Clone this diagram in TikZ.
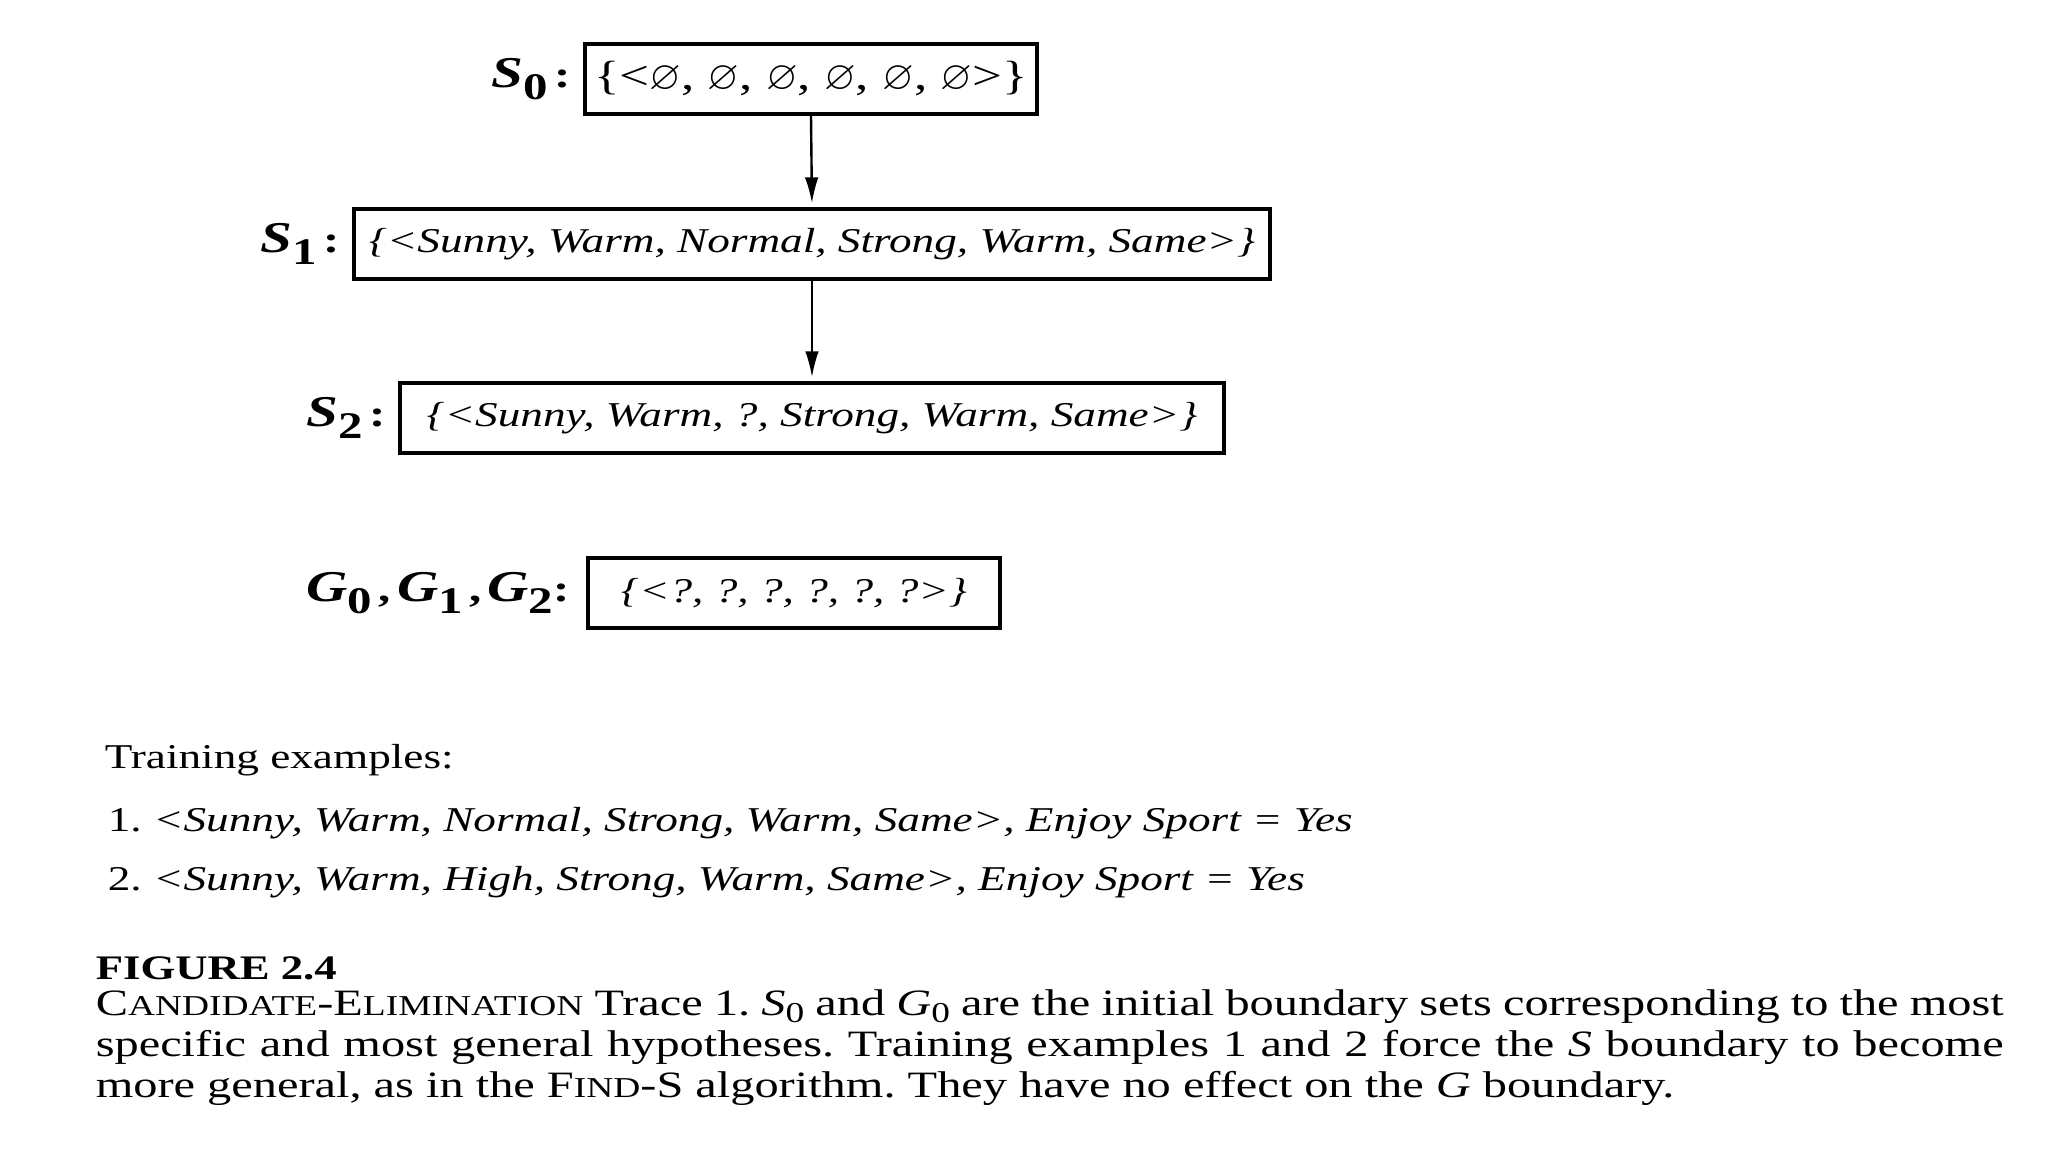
\documentclass[tikz,border=0pt]{standalone}
\usepackage{fontspec}
\setmainfont[FakeStretch=1.3]{Liberation Serif}
\usepackage{amssymb}
\usetikzlibrary{arrows.meta,positioning}
\newcommand{\fsc}[2]{#1{\fontsize{7.2}{8}\selectfont #2}}
\newcommand{\setlbl}[2]{{\fontsize{11}{13}\selectfont\bfseries\itshape #1}\raisebox{-0.7ex}{\fontsize{9.4}{11}\selectfont\bfseries #2}}
\newcommand{\capsub}[2]{\textit{#1}\raisebox{-0.4ex}{\fontsize{7.2}{8}\selectfont #2}}
\frenchspacing
\tikzset{
  base/.style={font=\fontsize{8.7}{10}\selectfont, inner sep=0pt, text=black},
  setbox/.style={base, rectangle, draw=black, line width=0.8pt, minimum height=17.5pt, font=\fontsize{8.7}{10}\selectfont\itshape},
  setname/.style={base, font=\fontsize{9.4}{11}\selectfont\bfseries},
  arr/.style={-{Latex[length=6.5pt,width=3.4pt]}, line width=0.6pt, shorten >=1pt},
  txt/.style={base, anchor=west},
  captxt/.style={txt, font=\fontsize{9.3}{10}\selectfont},
}
\begin{document}
\begin{tikzpicture}[x=0.25pt,y=-0.25pt]
  \useasboundingbox (0,0) rectangle (2048,1152);
  % boundary sets
  \node[setbox,minimum width=113pt,font=\fontsize{10.2}{12}\selectfont] (s0) at (811,79) {\{<$\varnothing$, $\varnothing$, $\varnothing$, $\varnothing$, $\varnothing$, $\varnothing$>\}};
  \node[setbox,minimum width=229pt] (s1) at (812,244) {\{<Sunny, Warm, Normal, Strong, Warm, Same>\}};
  \node[setbox,minimum width=206pt] (s2) at (812,418) {\{<Sunny, Warm, ?, Strong, Warm, Same>\}};
  \node[setbox,minimum width=103pt] (g012) at (794,593) {\{<?, ?, ?, ?, ?, ?>\}};
  \node[setname,left=3pt of s0] (s0name) {\setlbl{S}{0}\,:};
  \node[setname,left=3pt of s1] (s1name) {\setlbl{S}{1}\,:};
  \node[setname,left=3pt of s2] (s2name) {\setlbl{S}{2}\,:};
  \node[setname,left=4pt of g012] (gname) {\setlbl{G}{0}\,,\,\setlbl{G}{1}\,,\,\setlbl{G}{2}:};
  \foreach \a/\b in {s0/s1,s1/s2}{\draw[arr] (\a.south) -- (\b.north);}
  % training examples
  \node[txt] (train) at (104,760) {Training examples:};
  \node[txt] (ex1) at (107,823) {1. \textit{<Sunny, Warm, Normal, Strong, Warm, Same>, Enjoy Sport = Yes}};
  \node[txt] (ex2) at (107,882) {2. \textit{<Sunny, Warm, High, Strong, Warm, Same>, Enjoy Sport = Yes}};
  % caption
  \node[captxt,font=\fontsize{8.6}{10}\selectfont\bfseries] (figno) at (95,968) {FIGURE 2.4};
  \node[captxt] (cap1) at (95,1007) {\makebox[477pt][s]{\fsc{C}{ANDIDATE}-\fsc{E}{LIMINATION} Trace 1. \capsub{S}{0} and \capsub{G}{0} are the initial boundary sets corresponding to the most}};
  \node[captxt] (cap2) at (95,1047) {\makebox[477pt][s]{specific and most general hypotheses. Training examples 1 and 2 force the \textit{S} boundary to become}};
  \node[captxt] (cap3) at (95,1088) {more general, as in the \fsc{F}{IND}-S algorithm. They have no effect on the \textit{G} boundary.};
\end{tikzpicture}
\end{document}
